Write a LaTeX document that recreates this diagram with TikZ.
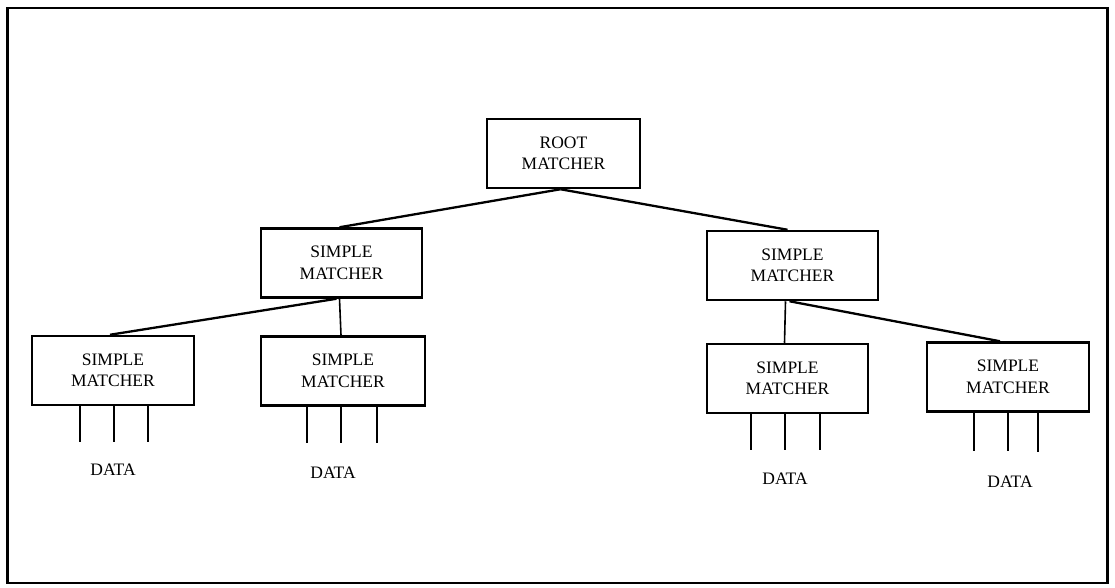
\documentclass[tikz,border=0pt]{standalone}
\usepackage{fontspec}
\setmainfont{Liberation Serif}
\begin{document}
\begin{tikzpicture}[x=1pt,y=-1pt,
  matcher/.style={draw, line width=2.5pt, minimum width=#1, minimum height=69pt, inner sep=0pt,
    align=center, font=\fontsize{17.5}{21.5}\selectfont},
  matcher/.default=162pt,
  conn/.style={line width=2.3pt},
  dataline/.style={line width=2pt},
  datalabel/.style={font=\fontsize{17.5}{21.5}\selectfont, inner sep=0pt}]
\useasboundingbox (0,0) rectangle (1115,587);
\draw[line width=2.8pt] (7.5,8) rectangle (1107.5,583);

\node[matcher=153pt] (root) at (563.5,153.5) {ROOT\\MATCHER};
\node[matcher=161pt] (sl) at (341.5,263) {SIMPLE\\MATCHER};
\node[matcher=171pt] (sr) at (792.5,265.5) {SIMPLE\\MATCHER};
\node[matcher=162pt] (a) at (113,370.5) {SIMPLE\\MATCHER};
\node[matcher=164pt] (b) at (343,371) {SIMPLE\\MATCHER};
\node[matcher=161pt] (c) at (787.5,378.5) {SIMPLE\\MATCHER};
\node[matcher=162pt] (d) at (1008,377) {SIMPLE\\MATCHER};

\draw[conn] ([xshift=-3pt]root.south) -- ([xshift=-2pt]sl.north);
\draw[conn] ([xshift=-3pt]root.south) -- ([xshift=-5pt]sr.north);
\draw[conn] ([xshift=-5pt]sl.south) -- ([xshift=-3pt]a.north);
\draw[line width=1.6pt] ([xshift=-2pt]sl.south) -- ([xshift=-2pt]b.north);
\draw[line width=1.6pt] ([xshift=-7pt]sr.south) -- ([xshift=-3pt]c.north);
\draw[conn] ([xshift=-3pt]sr.south) -- ([xshift=-8pt]d.north);

\foreach \n/\x/\len in {a/80/36, a/114/36, a/148/36,
                       b/307/36, b/341/36, b/377/36,
                       c/751/36, c/785/36, c/820/36,
                       d/974/38, d/1008/38, d/1038/39} {
  \draw[dataline] (\x,0 |- \n.south) -- ++(0,\len);
}

\node[datalabel] (da) at (113,470) {DATA};
\node[datalabel] (db) at (333,473) {DATA};
\node[datalabel] (dc) at (785,479) {DATA};
\node[datalabel] (dd) at (1010,482) {DATA};
\end{tikzpicture}
\end{document}
